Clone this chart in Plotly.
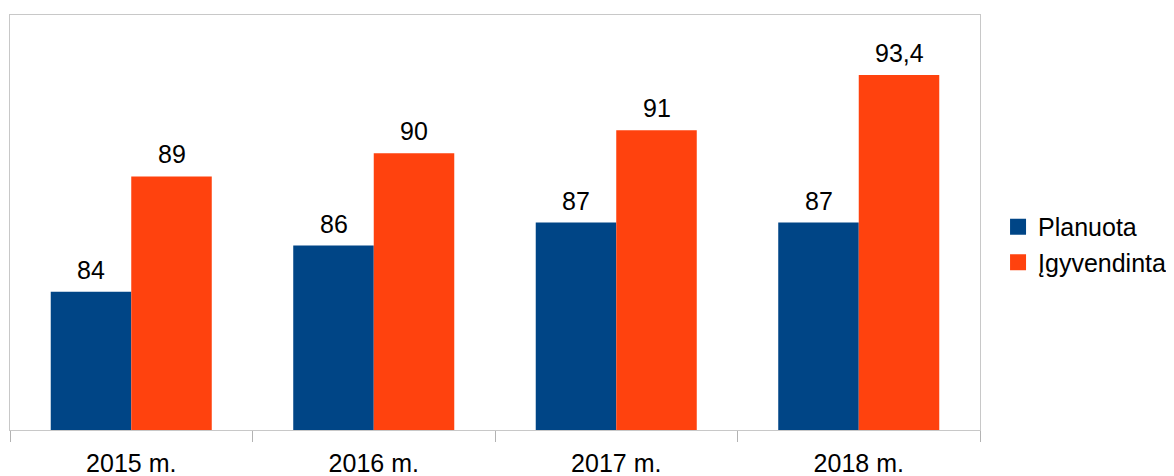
import plotly.graph_objects as go

categories = ["2015 m.", "2016 m.", "2017 m.", "2018 m."]
planuota = [84, 86, 87, 87]
igyvendinta = [89, 90, 91, 93.4]
series_names = ["Planuota", "Įgyvendinta"]
colors = ["#004586", "#ff420e"]

def fmt(v):
    s = ("%g" % v)
    return s.replace(".", ",")

font = dict(family="Liberation Sans, Arial, sans-serif", size=25, color="#000000")

fig = go.Figure()
series = [planuota, igyvendinta]
offsets = [-40.25, 40.25]
for name, vals, col, off in zip(series_names, series, colors, offsets):
    fig.add_trace(go.Bar(
        x=categories, y=vals, name=name, marker=dict(color=col, line=dict(width=0)),
        showlegend=False,
    ))
    fig.add_trace(go.Scatter(
        x=[None], y=[None], mode="markers", name=name,
        marker=dict(symbol="square", size=16, color=col),
    ))
    for c, v in zip(categories, vals):
        fig.add_annotation(
            x=c, y=v, xref="x", yref="y", text=fmt(v), showarrow=False,
            xshift=off, yshift=6, yanchor="bottom", xanchor="center", font=font,
        )

fig.update_layout(
    width=1174, height=476,
    margin=dict(l=2, r=202, t=7, b=54, autoexpand=False),
    paper_bgcolor="white", plot_bgcolor="white",
    barmode="group", bargap=0.336, bargroupgap=0,
    font=font,
    legend=dict(x=1.0186, y=0.447, xanchor="left", yanchor="middle",
                font=font, tracegroupgap=0, itemsizing="trace"),
    showlegend=True,
)
fig.update_xaxes(
    type="category", tickson="boundaries", ticks="outside", ticklen=11,
    tickcolor="#b3b3b3", tickwidth=1, showline=True, linecolor="#c8c8c8",
    mirror=True, showgrid=False, tickfont=font, automargin=False,
    ticklabelstandoff=11,
)
fig.update_yaxes(
    range=[78, 96], showticklabels=False, ticks="", showgrid=False,
    zeroline=False, showline=True, linecolor="#c8c8c8", mirror=True,
    automargin=False,
)

fig.write_html("out.html")
